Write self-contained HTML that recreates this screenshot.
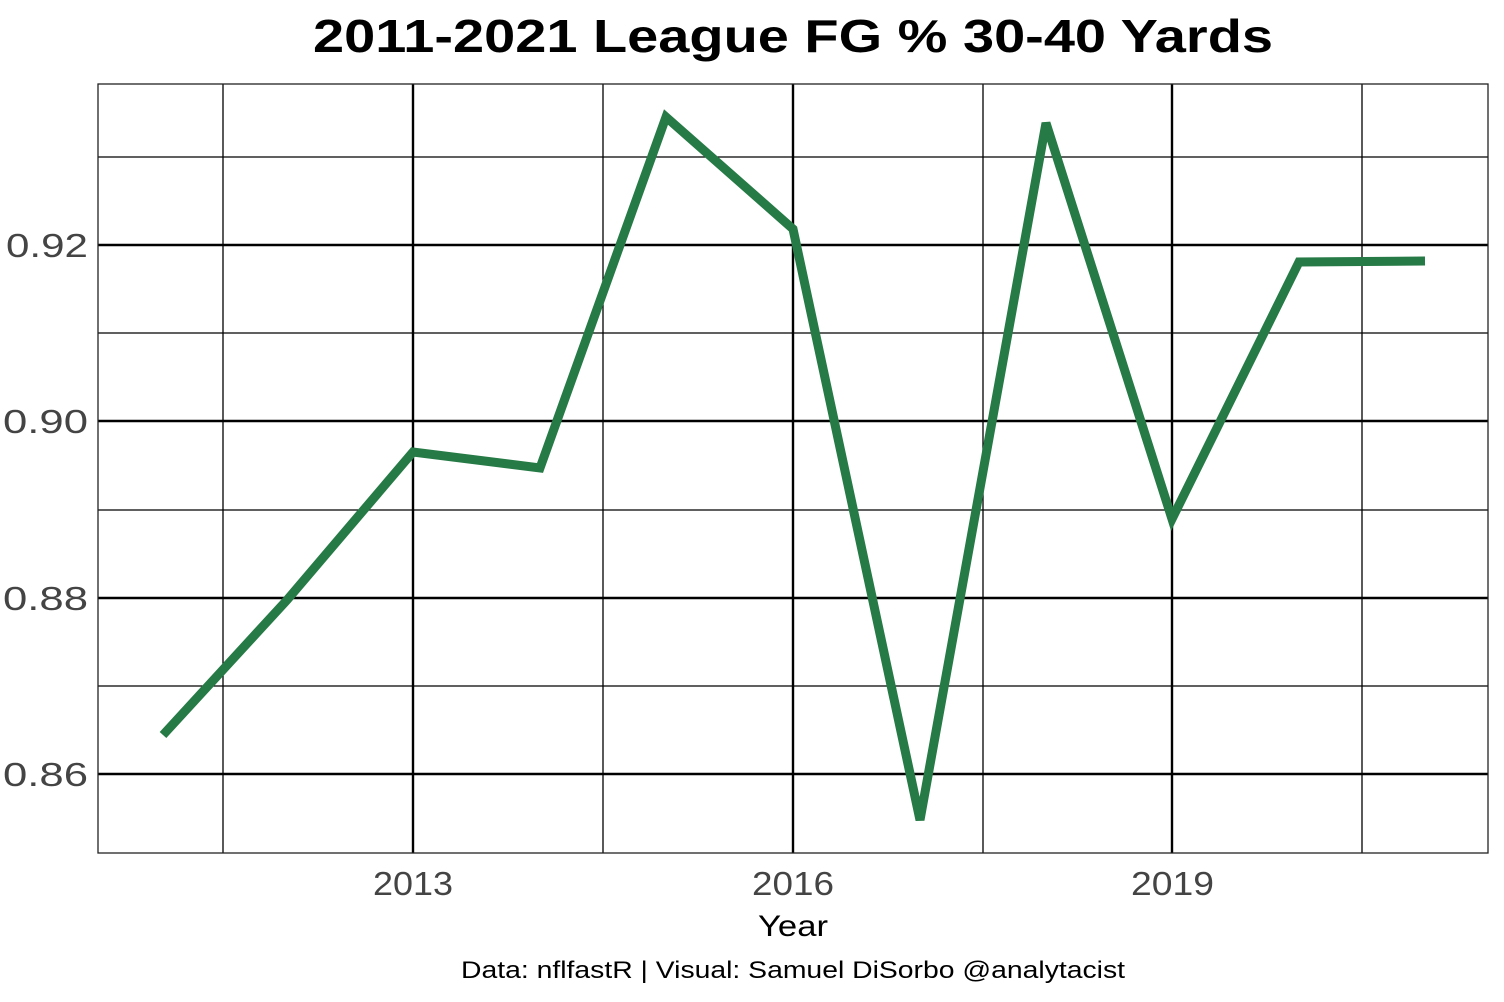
<!DOCTYPE html>
<html><head><meta charset="utf-8"><style>
html,body{margin:0;padding:0;background:#fff;}
svg{display:block;font-family:"Liberation Sans",sans-serif;}
</style></head><body>
<svg width="1504" height="1002" viewBox="0 0 1504 1002" xmlns="http://www.w3.org/2000/svg">
<rect width="1504" height="1002" fill="#fff"/>
<text x="313" y="52" textLength="960" lengthAdjust="spacingAndGlyphs" font-size="46" font-weight="bold" fill="#000">2011-2021 League FG % 30-40 Yards</text>
<g stroke="#000" stroke-width="1.3">
<line x1="98" x2="1488" y1="157" y2="157"/><line x1="98" x2="1488" y1="333" y2="333"/>
<line x1="98" x2="1488" y1="510" y2="510"/><line x1="98" x2="1488" y1="686" y2="686"/>
<line y1="84" y2="853" x1="223" x2="223"/><line y1="84" y2="853" x1="603" x2="603"/>
<line y1="84" y2="853" x1="983" x2="983"/><line y1="84" y2="853" x1="1362" x2="1362"/>
</g>
<g stroke="#000" stroke-width="2.4">
<line x1="98" x2="1488" y1="245" y2="245"/><line x1="98" x2="1488" y1="421" y2="421"/>
<line x1="98" x2="1488" y1="598" y2="598"/><line x1="98" x2="1488" y1="774" y2="774"/>
<line y1="84" y2="853" x1="413" x2="413"/><line y1="84" y2="853" x1="793" x2="793"/>
<line y1="84" y2="853" x1="1172" x2="1172"/>
</g>
<rect x="98" y="84" width="1390" height="769" fill="none" stroke="#222" stroke-width="1.3"/>
<polyline fill="none" stroke="#257a45" stroke-width="9" stroke-linejoin="miter" points="163,735 287,600 413,452 540,468 666,117 793,229 920,820 1046,123 1172,519 1299,262 1425,261"/>
<g font-size="33" fill="#444">
<text x="6" y="257" textLength="82" lengthAdjust="spacingAndGlyphs">0.92</text>
<text x="3" y="433" textLength="85" lengthAdjust="spacingAndGlyphs">0.90</text>
<text x="3" y="610" textLength="85" lengthAdjust="spacingAndGlyphs">0.88</text>
<text x="3" y="786" textLength="85" lengthAdjust="spacingAndGlyphs">0.86</text>
</g>
<g font-size="33" fill="#444">
<text x="373" y="895" textLength="80" lengthAdjust="spacingAndGlyphs">2013</text>
<text x="752" y="895" textLength="82" lengthAdjust="spacingAndGlyphs">2016</text>
<text x="1131" y="895" textLength="83" lengthAdjust="spacingAndGlyphs">2019</text>
</g>
<text x="758" y="936" textLength="70" lengthAdjust="spacingAndGlyphs" font-size="30" fill="#000">Year</text>
<text x="461" y="978" textLength="664" lengthAdjust="spacingAndGlyphs" font-size="24" fill="#000">Data: nflfastR | Visual: Samuel DiSorbo @analytacist</text>
</svg>
</body></html>
